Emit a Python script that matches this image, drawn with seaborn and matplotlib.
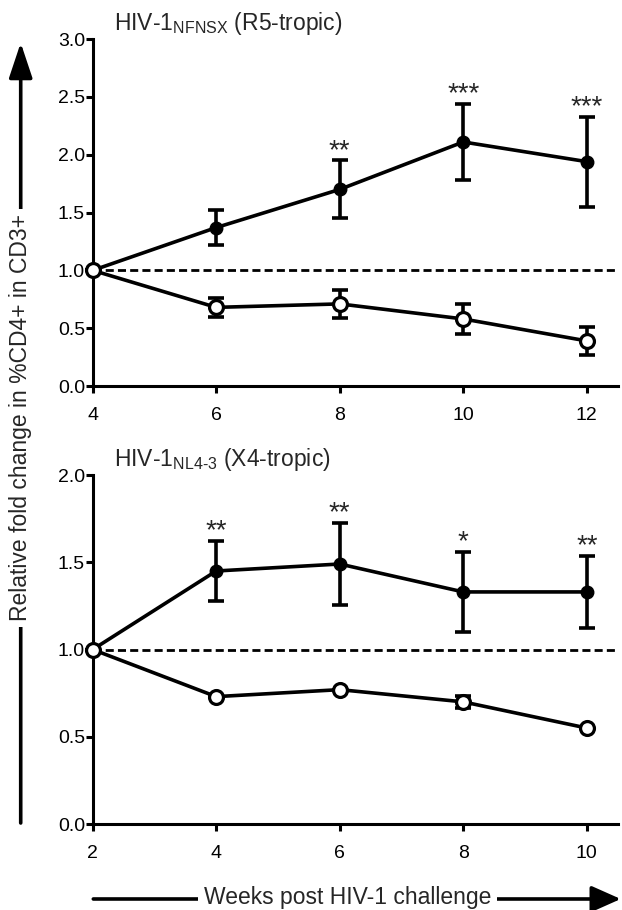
import numpy as np
import pandas as pd
import matplotlib
matplotlib.use("Agg")
import matplotlib.pyplot as plt
from matplotlib.patches import FancyArrowPatch
import seaborn as sns

# ===== Data =====
r5_weeks = [4, 6, 8, 10, 12]
r5_filled_mean = [1.00, 1.37, 1.70, 2.11, 1.94]
r5_filled_sem = [0.00, 0.15, 0.25, 0.33, 0.39]
r5_open_mean = [1.00, 0.68, 0.71, 0.58, 0.39]
r5_open_sem = [0.00, 0.08, 0.12, 0.13, 0.12]
r5_stars = ["", "", "**", "***", "***"]

x4_weeks = [2, 4, 6, 8, 10]
x4_filled_mean = [1.00, 1.45, 1.49, 1.33, 1.33]
x4_filled_sem = [0.00, 0.17, 0.235, 0.23, 0.205]
x4_open_mean = [1.00, 0.73, 0.77, 0.70, 0.55]
x4_open_sem = [0.00, 0.00, 0.00, 0.035, 0.00]
x4_stars = ["", "**", "**", "*", "**"]

r5_title = r"HIV-1$_{\mathregular{NFNSX}}$ (R5-tropic)"
x4_title = r"HIV-1$_{\mathregular{NL4\text{-}3}}$ (X4-tropic)"
y_label = "Relative fold change in %CD4+ in CD3+"
x_label = "Weeks post HIV-1 challenge"

# ===== Style =====
sns.set_style("ticks")
plt.rcParams["font.family"] = ["Liberation Sans", "DejaVu Sans"]
plt.rcParams["mathtext.fontset"] = "custom"
plt.rcParams["mathtext.rm"] = "Liberation Sans"
plt.rcParams["mathtext.it"] = "Liberation Sans"
plt.rcParams["axes.linewidth"] = 2.2

LW = 2.6


def draw_panel(ax, weeks, f_mean, f_sem, o_mean, o_sem, stars, ymax, title):
    df = pd.DataFrame({"week": weeks, "filled": f_mean, "open": o_mean})

    ax.axhline(1.0, color="black", lw=2.0, ls=(0, (2.9, 1.5)), zorder=1)

    # error bars sit behind the markers
    for mean, sem in [(f_mean, f_sem), (o_mean, o_sem)]:
        ax.errorbar(weeks, mean, yerr=sem, fmt="none", ecolor="black",
                    elinewidth=LW, capsize=6, capthick=LW, zorder=2, clip_on=False)

    sns.lineplot(data=df, x="week", y="filled", ax=ax, color="black", lw=LW,
                 marker="o", markersize=9, markerfacecolor="black",
                 markeredgecolor="black", markeredgewidth=1.0, zorder=3,
                 clip_on=False)
    sns.lineplot(data=df, x="week", y="open", ax=ax, color="black", lw=LW,
                 marker="o", markersize=10, markerfacecolor="white",
                 markeredgecolor="black", markeredgewidth=2.3, zorder=4,
                 clip_on=False)

    for wk, m, s, lab in zip(weeks, f_mean, f_sem, stars):
        if lab:
            ax.annotate(lab, xy=(wk, m + s), xytext=(0, 2), textcoords="offset points",
                        ha="center", va="baseline", fontsize=20)

    ax.set_xlim(weeks[0], weeks[-1] + 0.51)
    ax.set_ylim(0, ymax)
    ax.set_xticks(weeks)
    ax.set_yticks(np.arange(0, ymax + 0.01, 0.5))
    ax.yaxis.set_major_formatter(matplotlib.ticker.FormatStrFormatter("%.1f"))
    ax.tick_params(axis="both", direction="out", length=5, width=2.2,
                   labelsize=14, color="black", labelcolor="black")
    ax.tick_params(axis="x", pad=10)
    ax.tick_params(axis="y", pad=0.5)
    ax.set_xlabel("")
    ax.set_ylabel("")
    sns.despine(ax=ax)
    for sp in ax.spines.values():
        sp.set_color("black")
    ax.text(0.041, 1.026, title, transform=ax.transAxes, ha="left",
            va="baseline", fontsize=16.5)


fig = plt.figure(figsize=(6.22, 9.10), dpi=100)
ax_top = fig.add_axes([0.149, 0.5758, 0.845, 0.3813])
ax_bot = fig.add_axes([0.149, 0.0945, 0.845, 0.3835])

draw_panel(ax_top, r5_weeks, r5_filled_mean, r5_filled_sem, r5_open_mean,
           r5_open_sem, r5_stars, 3.0, r5_title)
draw_panel(ax_bot, x4_weeks, x4_filled_mean, x4_filled_sem, x4_open_mean,
           x4_open_sem, x4_stars, 2.0, x4_title)

# ===== Arrowed axis titles =====
y_arrow = FancyArrowPatch((0.0333, 0.0956), (0.0333, 0.953), transform=fig.transFigure,
                          arrowstyle="-|>,head_length=21.6,head_width=7.2",
                          mutation_scale=1, lw=LW, color="black",
                          shrinkA=0, shrinkB=0, zorder=1)
fig.add_artist(y_arrow)
fig.text(0.0333, 0.5407, y_label, rotation=90, ha="center", va="center", fontsize=16.5,
         bbox=dict(facecolor="white", edgecolor="none", pad=4), zorder=3)

x_arrow = FancyArrowPatch((0.150, 0.0121), (0.998, 0.0121), transform=fig.transFigure,
                          arrowstyle="-|>,head_length=18,head_width=8",
                          mutation_scale=1, lw=LW, color="black",
                          shrinkA=0, shrinkB=0, zorder=1)
fig.add_artist(x_arrow)
fig.text(0.5587, 0.0135, x_label, ha="center", va="center", fontsize=16.5,
         bbox=dict(facecolor="white", edgecolor="none", pad=4), zorder=3)

fig.savefig("out.png", dpi=100)
